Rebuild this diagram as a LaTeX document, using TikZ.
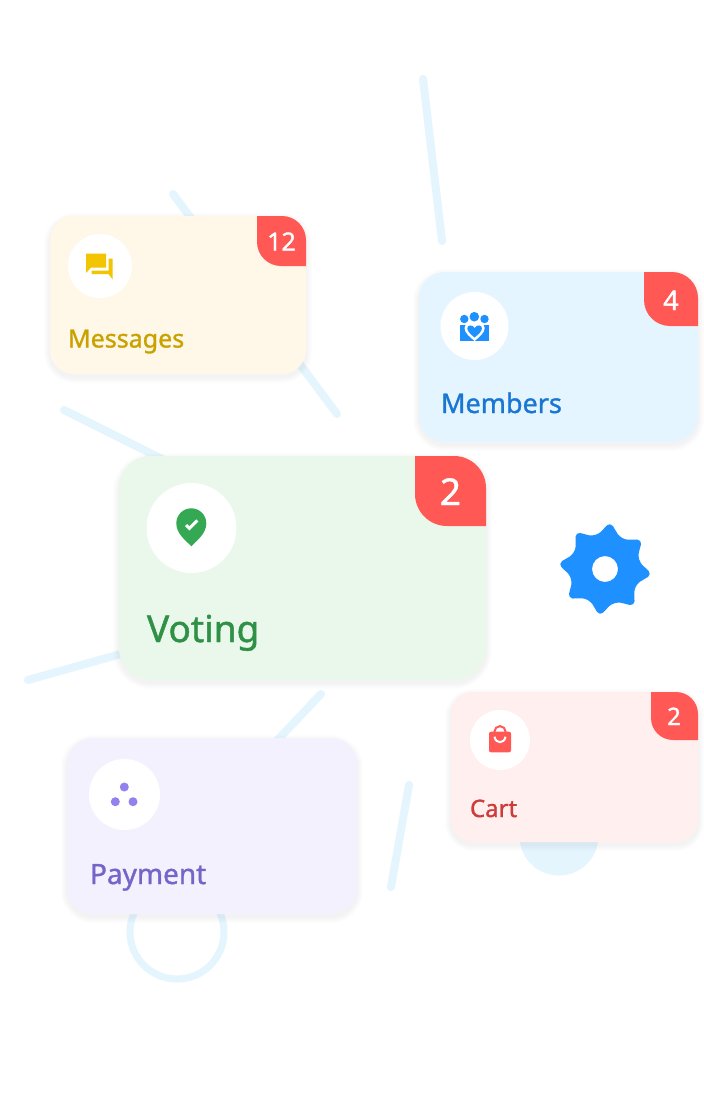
\documentclass[tikz,border=0pt]{standalone}
\usepackage{fontspec}
\setmainfont{Noto Sans}
\newfontfamily\lab{Noto Sans}[FakeBold=1.2]
\definecolor{deco}{HTML}{E4F5FE}
\definecolor{badgered}{HTML}{FF5855}
\definecolor{gearblue}{HTML}{1E90FF}
\definecolor{msgfill}{HTML}{FFF8E8}
\definecolor{msgtext}{HTML}{C9A200}
\definecolor{msgicon}{HTML}{F2C500}
\definecolor{memfill}{HTML}{E4F5FF}
\definecolor{memtext}{HTML}{1976D2}
\definecolor{votfill}{HTML}{EAF7EB}
\definecolor{vottext}{HTML}{2E9146}
\definecolor{voticon}{HTML}{34A853}
\definecolor{payfill}{HTML}{F3F1FE}
\definecolor{paytext}{HTML}{7665C9}
\definecolor{payicon}{HTML}{9381EE}
\definecolor{carfill}{HTML}{FFEFEF}
\definecolor{cartext}{HTML}{CF3B3B}
\tikzset{
  decoline/.style={draw=deco,line width=8pt,line cap=round},
  cardbox/.style={inner sep=0pt,outer sep=0pt,draw=none},
  iconbg/.style={circle,fill=white,inner sep=0pt,outer sep=0pt,draw=none},
  cardlabel/.style={anchor=base west,inner sep=0pt,outer sep=0pt},
  badgenum/.style={text=white,inner sep=0pt,outer sep=0pt,anchor=base},
  declare function={gx(\r,\h,\a)=605+\r*sin(\a)+\h*cos(\a); gy(\r,\h,\a)=569-\r*cos(\a)+\h*sin(\a);},
}
\newcommand\cardshadow[5]{%
  \foreach \i in {1,...,6}{%
    \pgfmathsetmacro\rr{#5+\i}%
    \fill[black,opacity=.006,rounded corners=\rr pt]
      ({#1-\i},{#2-\i+3}) rectangle ({#3+\i},{#4+\i+3});
  }%
}
% left, top, right, bottom of the badge's card corner; radius; left edge of the badge
\newcommand\cardbadge[6]{%
  \begin{scope}
    \clip[rounded corners=#5pt] (#1,#2) rectangle (#3,{#4+60});
    \fill[badgered] (#6,{#2-40}) [rounded corners=#5pt] -- (#6,#4) [sharp corners] -- ({#3+40},#4) -- ({#3+40},{#2-40}) -- cycle;
  \end{scope}
}
\begin{document}
\begin{tikzpicture}[x=1pt,y=-1pt]
\useasboundingbox (0,0) rectangle (704,1095);
\fill[white] (0,0) rectangle (704,1095);
% decoration
\coordinate (l1a) at (423,79); \coordinate (l1b) at (442,241);
\coordinate (l2a) at (173,194); \coordinate (l2b) at (337,414);
\coordinate (l3a) at (64,410); \coordinate (l3b) at (170,463);
\coordinate (l4a) at (28,680); \coordinate (l4b) at (135,650);
\coordinate (l5a) at (321,694); \coordinate (l5b) at (270,748);
\coordinate (l6a) at (409,785); \coordinate (l6b) at (391,887);
\draw[decoline] (l1a) -- (l1b);
\draw[decoline] (l2a) -- (l2b);
\draw[decoline] (l3a) -- (l3b);
\draw[decoline] (l4a) -- (l4b);
\draw[decoline] (l5a) -- (l5b);
\draw[decoline] (l6a) -- (l6b);
\draw[draw=deco,line width=7pt] (177,932) circle[radius=47];
\fill[deco] (559,836) circle[radius=39.5];
% gear
\fill[gearblue,even odd rule]
  ({gx(35.5,0,-16)},{gy(35.5,0,-16)})
  \foreach \k [evaluate=\k as \a using 6.5+45*\k] in {0,...,7}{
    .. controls ({gx(35.5,9,\a-22.5)},{gy(35.5,9,\a-22.5)}) and ({gx(45,-5,\a)},{gy(45,-5,\a)}) .. ({gx(45,0,\a)},{gy(45,0,\a)})
    .. controls ({gx(45,5,\a)},{gy(45,5,\a)}) and ({gx(35.5,-9,\a+22.5)},{gy(35.5,-9,\a+22.5)}) .. ({gx(35.5,0,\a+22.5)},{gy(35.5,0,\a+22.5)})
  } -- cycle
  (605,569) circle[radius=13];
% Messages
\cardshadow{50}{216}{306}{374}{24}
\node[cardbox,fill=msgfill,rounded corners=24pt,minimum width=256pt,minimum height=158pt] (msg) at (178,295) {};
\cardbadge{50}{216}{306}{266}{24}{257}
\node[badgenum,font=\lab\fontsize{25}{30}\selectfont] (msgb) at (281.5,250.5) {12};
\node[iconbg,minimum size=64pt] (msgc) at (100,266) {};
\fill[msgicon] (86,253.5) -- (106,253.5) -- (106,267.5) -- (91,267.5) -- (86,273) -- cycle;
\fill[msgicon] (108.7,258.7) -- (112.7,258.7) -- (112.7,279.5) -- (108.5,274) -- (91.7,274) -- (91.7,270.7) -- (108.7,270.7) -- cycle;
\node[cardlabel,text=msgtext,font=\lab\fontsize{25}{30}\selectfont] (msgt) at (68,347.5) {Messages};
% Members
\cardshadow{419}{272}{698}{442}{26}
\node[cardbox,fill=memfill,rounded corners=26pt,minimum width=279pt,minimum height=170pt] (mem) at (558.5,357) {};
\cardbadge{419}{272}{698}{326}{26}{644}
\node[badgenum,font=\lab\fontsize{27}{32}\selectfont] (memb) at (671,310) {4};
\node[iconbg,minimum size=68pt] (memc) at (474.5,326) {};
\fill[gearblue] (464.3,319) circle[radius=4.2] (474.3,316.7) circle[radius=4.8] (484.5,319) circle[radius=4.2];
\fill[gearblue] (460.3,325) rectangle (489,340.5);
\fill[white] (474.6,341) .. controls (470,337) and (464.5,333) .. (464.5,328) .. controls (464.5,322.5) and (472,321.5) .. (474.6,325.5) .. controls (477.2,321.5) and (484.7,322.5) .. (484.7,328) .. controls (484.7,333) and (479.2,337) .. (474.6,341) -- cycle;
\fill[gearblue] (474.6,337.5) .. controls (471,334.5) and (467.3,331.5) .. (467.3,328.3) .. controls (467.3,324.8) and (472.5,324.3) .. (474.6,328) .. controls (476.7,324.3) and (481.9,324.8) .. (481.9,328.3) .. controls (481.9,331.5) and (478.2,334.5) .. (474.6,337.5) -- cycle;
\node[cardlabel,text=memtext,font=\lab\fontsize{27}{32}\selectfont] (memt) at (441,413) {Members};
% Voting
\cardshadow{119}{456}{486}{680}{32}
\node[cardbox,fill=votfill,rounded corners=32pt,minimum width=367pt,minimum height=224pt] (vot) at (302.5,568) {};
\cardbadge{119}{456}{486}{526}{32}{415}
\node[badgenum,font=\lab\fontsize{37}{44}\selectfont] (votb) at (450.5,505) {2};
\node[iconbg,minimum size=90pt] (votc) at (191.5,528) {};
\fill[voticon] (191.3,546.3) .. controls (186,540.5) and (176.3,534) .. (176.3,523.3) arc[start angle=180,end angle=360,radius=15] .. controls (206.3,534) and (196.6,540.5) .. (191.3,546.3) -- cycle;
\draw[white,line width=3pt] (186,525) -- (189.4,528.4) -- (197.3,520.4);
\node[cardlabel,text=vottext,font=\lab\fontsize{37}{44}\selectfont] (vott) at (147,642) {Voting};
% Payment
\cardshadow{67}{738}{357}{914}{26}
\node[cardbox,fill=payfill,rounded corners=26pt,minimum width=290pt,minimum height=176pt] (pay) at (212,826) {};
\node[iconbg,minimum size=71pt] (payc) at (124.5,794.5) {};
\fill[payicon] (124.3,787) circle[radius=4.5] (115.3,801.7) circle[radius=4.5] (133,801.7) circle[radius=4.5];
\node[cardlabel,text=paytext,font=\lab\fontsize{28}{34}\selectfont] (payt) at (90,884) {Payment};
% Cart
\cardshadow{451}{692}{698}{842}{22}
\node[cardbox,fill=carfill,rounded corners=22pt,minimum width=247pt,minimum height=150pt] (car) at (574.5,767) {};
\cardbadge{451}{692}{698}{740}{22}{651}
\node[badgenum,font=\lab\fontsize{24}{29}\selectfont] (carb) at (674,725) {2};
\node[iconbg,minimum size=60pt] (carc) at (500,740) {};
\draw[badgered,line width=2pt] (500,731.7) circle[radius=5.6];
\fill[badgered,rounded corners=2pt] (489,731.7) rectangle (511,752.3);
\draw[white,line width=2pt] (494.5,736.7) .. controls (495.5,744) and (504.5,744) .. (505.5,736.7);
\node[cardlabel,text=cartext,font=\lab\fontsize{24}{29}\selectfont] (cart) at (470,817) {Cart};
\end{tikzpicture}
\end{document}
